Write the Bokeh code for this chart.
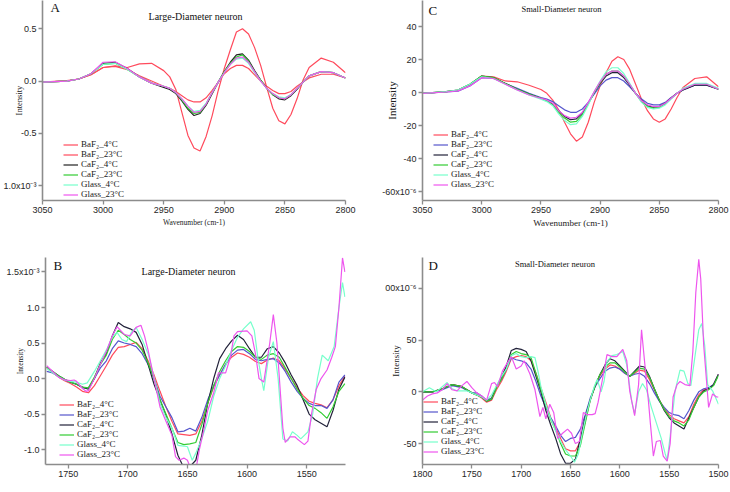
from bokeh.plotting import figure
from bokeh.models import Range1d, FixedTicker, Label
from bokeh.layouts import column, row
from bokeh.embed import file_html
from bokeh.resources import INLINE

# ---------------- data ----------------
series_labels = ["BaF\u2082_4\u00b0C", "BaF\u2082_23\u00b0C", "CaF\u2082_4\u00b0C",
                 "CaF\u2082_23\u00b0C", "Glass_4\u00b0C", "Glass_23\u00b0C"]
colors_A = ["#ff4a5c", "#ff4a5c", "#222222", "#33cc33", "#77ffcc", "#ee55ee"]
colors_BCD = ["#ff4a5c", "#5555cc", "#22223a", "#33cc33", "#77ffcc", "#ee55ee"]

# Panel A (CH stretch, large-diameter) - x shared
A_x = [3050, 3030, 3020, 3010, 3000, 2990, 2980, 2970, 2960, 2950, 2945, 2940, 2935, 2930,
       2925, 2920, 2915, 2910, 2905, 2900, 2895, 2890, 2885, 2880, 2875, 2870, 2865, 2860,
       2855, 2850, 2845, 2840, 2835, 2830, 2820, 2810, 2800]
A_baf4 = [-0.01, 0.005, 0.02, 0.06, 0.13, 0.145, 0.13, 0.165, 0.17, 0.1, 0.04, -0.08, -0.3, -0.52,
          -0.64, -0.67, -0.53, -0.33, -0.09, 0.12, 0.3, 0.47, 0.5, 0.45, 0.32, 0.15, -0.06, -0.26,
          -0.38, -0.41, -0.32, -0.17, 0.01, 0.13, 0.22, 0.18, 0.08]
A_baf23 = [-0.01, 0.0, 0.02, 0.06, 0.13, 0.14, 0.11, 0.05, 0.0, -0.05, -0.07, -0.1, -0.14, -0.18,
           -0.2, -0.2, -0.16, -0.09, -0.01, 0.07, 0.12, 0.15, 0.15, 0.12, 0.06, 0.0, -0.05, -0.09,
           -0.12, -0.12, -0.1, -0.05, -0.01, 0.03, 0.065, 0.065, 0.03]
A_caf4 = [-0.01, 0.0, 0.02, 0.07, 0.17, 0.18, 0.12, 0.04, -0.02, -0.06, -0.08, -0.12, -0.19, -0.27,
          -0.33, -0.31, -0.23, -0.12, -0.01, 0.09, 0.18, 0.25, 0.26, 0.2, 0.1, 0.01, -0.07, -0.13,
          -0.17, -0.18, -0.14, -0.08, -0.01, 0.05, 0.09, 0.08, 0.03]
A_caf23 = [-0.01, 0.0, 0.02, 0.07, 0.16, 0.17, 0.11, 0.04, -0.02, -0.05, -0.07, -0.11, -0.18, -0.26,
           -0.31, -0.3, -0.22, -0.11, -0.01, 0.09, 0.17, 0.23, 0.25, 0.19, 0.09, 0.01, -0.07, -0.13,
           -0.16, -0.17, -0.13, -0.07, -0.01, 0.05, 0.09, 0.08, 0.03]
A_gl4 = [-0.01, 0.0, 0.02, 0.07, 0.16, 0.17, 0.11, 0.04, -0.02, -0.05, -0.07, -0.11, -0.17, -0.24,
         -0.29, -0.28, -0.21, -0.11, -0.01, 0.08, 0.16, 0.21, 0.22, 0.17, 0.08, 0.0, -0.07, -0.12,
         -0.15, -0.16, -0.13, -0.07, -0.01, 0.05, 0.09, 0.08, 0.03]
A_gl23 = [-0.01, 0.0, 0.02, 0.07, 0.18, 0.185, 0.12, 0.04, -0.02, -0.05, -0.07, -0.11, -0.17, -0.24,
          -0.3, -0.29, -0.22, -0.11, -0.01, 0.08, 0.16, 0.22, 0.23, 0.18, 0.09, 0.0, -0.07, -0.12,
          -0.16, -0.17, -0.13, -0.07, -0.01, 0.05, 0.09, 0.08, 0.03]

# Panel C (CH stretch, small-diameter)
C_x = A_x
C_baf4 = [-0.6, 0.5, 1.2, 4.5, 10, 9.5, 7, 6.5, 4.4, 1.8, -0.5, -4.6, -10.5, -18, -25, -29.5, -27,
          -18, -6, 4, 12, 19, 21.7, 20, 14, 5, -4, -11, -16, -18, -16, -10, -3, 3, 8.5, 9.5, 3.5]
C_baf23 = [-0.5, 0.3, 0.8, 4, 9, 8.5, 5.5, 2.5, -0.5, -3, -4, -5.5, -8, -10.5, -12, -12, -10, -6,
           -1, 4, 7.5, 9, 9, 7, 3.5, -0.5, -4, -6.5, -7.5, -7.5, -6, -3, -0.5, 1.5, 4.5, 4.5, 2]
C_caf4 = [-0.5, 0.5, 1.5, 5, 10, 9, 5.5, 2, -1, -3.5, -5, -7, -11, -14.5, -16.5, -16, -12.5, -6.5,
          0, 5.5, 10, 12, 12, 9, 4.5, -0.5, -5, -8, -9, -8.5, -6.5, -3.5, -0.5, 1.5, 4.5, 4.5, 2]
C_caf23 = [-0.5, 0.5, 1.5, 5, 10, 9, 5.5, 2, -1, -3.5, -5, -7.5, -12, -15.5, -18, -17.5, -13.5, -7,
           0, 6, 11, 13, 13, 10, 5, -0.5, -5.5, -8.5, -9.5, -9, -7, -3.5, -0.5, 2, 5, 5, 2]
C_gl4 = [-0.5, 0.5, 1.5, 5, 9.5, 8.5, 5, 1.5, -1.5, -4, -5.5, -8, -13, -17, -19.5, -19, -14.5, -7.5,
         0.5, 7, 12.5, 15, 15, 11.5, 5.5, -0.5, -6, -9, -10, -9.5, -7.5, -4, -0.5, 2.5, 5.5, 5.5, 2.5]
C_gl23 = [-0.5, 0.3, 1, 4, 9, 8.5, 5, 1.5, -1.5, -3.5, -4.5, -6.5, -11, -14, -15.5, -15, -12, -6,
          0.5, 6.5, 11, 13, 13, 10, 5, -0.5, -5, -7.5, -8.5, -8.5, -6.5, -3.5, -0.5, 2, 5, 5, 2]

# Panel B (amide region, large-diameter)
B_x = [1768, 1763, 1758, 1753, 1748, 1743, 1738, 1733, 1728, 1723, 1718, 1713, 1708, 1703, 1698,
       1693, 1688, 1683, 1678, 1673, 1668, 1663, 1658, 1653, 1648, 1643, 1638, 1633, 1628, 1623,
       1618, 1613, 1608, 1603, 1598, 1593, 1588, 1583, 1578, 1573, 1568, 1563, 1558, 1553, 1548,
       1543, 1538, 1533, 1528, 1523, 1518]
B_baf4 = [0.15, 0.08, 0.02, -0.03, -0.07, -0.12, -0.18, -0.2, -0.1, 0.04, 0.18, 0.33, 0.44, 0.45,
          0.48, 0.51, 0.42, 0.25, 0.05, -0.18, -0.4, -0.6, -0.78, -0.79, -0.8, -0.78, -0.6, -0.35,
          -0.12, 0.05, 0.2, 0.3, 0.36, 0.34, 0.3, 0.24, 0.21, 0.26, 0.29, 0.25, 0.13, 0.0, -0.13,
          -0.24, -0.32, -0.35, -0.37, -0.41, -0.3, -0.1, 0.03]
B_baf23 = [0.1, 0.08, 0.03, -0.02, -0.05, -0.08, -0.13, -0.13, 0.0, 0.15, 0.25, 0.42, 0.53, 0.5,
           0.48, 0.45, 0.35, 0.2, 0.0, -0.25, -0.4, -0.55, -0.75, -0.74, -0.7, -0.74, -0.55, -0.3,
           -0.1, 0.05, 0.2, 0.33, 0.4, 0.41, 0.35, 0.27, 0.25, 0.27, 0.28, 0.22, 0.1, -0.05, -0.18,
           -0.28, -0.35, -0.38, -0.38, -0.42, -0.3, -0.05, 0.05]
B_caf4 = [0.16, 0.1, 0.04, -0.01, -0.05, -0.08, -0.12, -0.15, 0.0, 0.22, 0.35, 0.6, 0.79, 0.73,
          0.7, 0.65, 0.48, 0.2, -0.08, -0.3, -0.52, -0.78, -1.08, -1.26, -1.24, -1.15, -0.8, -0.35,
          0.0, 0.28, 0.42, 0.53, 0.61, 0.55, 0.42, 0.3, 0.3, 0.42, 0.45, 0.36, 0.22, 0.05, -0.1,
          -0.3, -0.5, -0.58, -0.63, -0.68, -0.45, -0.15, 0.02]
B_caf23 = [0.16, 0.1, 0.04, -0.01, -0.05, -0.08, -0.12, -0.13, 0.02, 0.2, 0.33, 0.55, 0.68, 0.62,
           0.55, 0.5, 0.4, 0.22, 0.0, -0.3, -0.5, -0.7, -0.9, -0.93, -0.92, -0.9, -0.65, -0.35,
           -0.1, 0.1, 0.25, 0.38, 0.45, 0.44, 0.38, 0.3, 0.27, 0.33, 0.35, 0.3, 0.15, 0.0, -0.15,
           -0.28, -0.38, -0.42, -0.48, -0.56, -0.4, -0.18, -0.07]
B_x_gl4 = [1768, 1763, 1758, 1753, 1748, 1743, 1738, 1734, 1728, 1723, 1718, 1713, 1709, 1705,
           1701, 1697, 1693, 1688, 1683, 1678, 1673, 1668, 1663, 1658, 1653, 1650, 1646, 1643,
           1638, 1633, 1628, 1623, 1618, 1613, 1608, 1603, 1597, 1594, 1591, 1588, 1586, 1582,
           1578, 1574, 1570, 1566, 1562, 1558, 1555, 1549, 1545, 1541, 1537, 1532, 1527, 1523,
           1520, 1518]
B_gl4 = [0.14, 0.08, 0.02, -0.02, -0.04, -0.05, -0.08, -0.06, 0.1, 0.25, 0.4, 0.58, 0.65, 0.55,
         0.52, 0.65, 0.72, 0.55, 0.35, 0.02, -0.35, -0.55, -0.7, -0.94, -0.95, -0.96, -1.15, -1.05,
         -0.85, -0.6, -0.25, 0.0, 0.18, 0.4, 0.58, 0.7, 0.8, 0.68, 0.3, 0.0, -0.17, 0.3,
         0.52, 0.0, -0.85, -0.88, -0.75, -0.8, -0.85, -0.75, -0.5, 0.0, 0.33, 0.25, 0.45, 1.0,
         1.35, 1.15]
B_x_gl23 = [1768, 1763, 1758, 1753, 1748, 1745, 1743, 1738, 1735, 1733, 1728, 1723, 1718, 1713,
            1709, 1703, 1698, 1693, 1689, 1686, 1683, 1678, 1673, 1668, 1663, 1660, 1657, 1653,
            1650, 1647, 1643, 1640, 1636, 1633, 1628, 1624, 1618, 1614, 1611, 1608, 1600, 1596,
            1593, 1590, 1586, 1581, 1578, 1575, 1570, 1568, 1564, 1560, 1558, 1552, 1549, 1546,
            1542, 1538, 1533, 1529, 1526, 1523, 1520, 1518]
B_gl23 = [0.18, 0.1, 0.02, -0.02, -0.03, -0.02, -0.04, -0.14, -0.18, -0.17, 0.0, 0.2, 0.38, 0.6,
          0.73, 0.62, 0.6, 0.72, 0.75, 0.6, 0.4, 0.0, -0.4, -0.6, -0.8, -1.1, -1.15, -1.12,
          -1.15, -1.28, -1.29, -1.0, -0.7, -0.45, -0.2, 0.08, 0.08, 0.3, 0.6, 0.66, 0.67, 0.6,
          0.35, 0.0, -0.05, 0.5, 0.9, 0.5, -0.7, -0.9, -0.82, -0.82, -0.85, -0.93, -0.88, -0.5,
          -0.15, 0.0, 0.12, 0.3, 0.45, 1.0, 1.7, 1.5]

# Panel D (amide region, small-diameter)
D_x = [1800, 1790, 1780, 1770, 1760, 1750, 1745, 1740, 1735, 1730, 1725, 1720, 1715, 1710, 1705,
       1700, 1695, 1690, 1685, 1680, 1675, 1670, 1665, 1660, 1655, 1650, 1645, 1640, 1635, 1630,
       1625, 1620, 1615, 1610, 1605, 1600, 1595, 1590, 1585, 1580, 1575, 1570, 1565, 1560, 1555,
       1550, 1545, 1540, 1535, 1530, 1525, 1520, 1515, 1510, 1505, 1500]
D_baf4 = [0, 0, 3, 7, 5, -1, -3, -6, -10, -8, 2, 10, 20, 32, 34, 35, 34, 30, 18, 4, -10, -25, -35,
          -45, -55, -57, -57, -48, -28, -8, 6, 16, 22, 26, 25, 22, 18, 15, 18, 21, 20, 12, 2, -8,
          -16, -22, -26, -28, -30, -24, -12, -3, 2, 3, 7, 17]
D_baf23 = [0, 0, 2, 6, 4, -1, -1, -4, -8, -6, 5, 12, 22, 33, 31, 30, 28, 22, 10, -4, -15, -25, -33,
           -42, -48, -45, -44, -36, -22, -6, 5, 13, 20, 23, 24, 22, 18, 15, 17, 18, 15, 8, -1, -9,
           -15, -20, -22, -23, -26, -18, -8, 0, 3, 4, 7, 17]
D_caf4 = [0, 0, 3, 7, 5, -1, -3, -5, -9, -7, 5, 14, 25, 40, 42, 41, 39, 30, 15, 0, -18, -32, -45,
          -60, -69, -69, -65, -45, -24, -8, 6, 17, 26, 32, 30, 25, 20, 15, 20, 25, 24, 15, 3, -8,
          -18, -25, -30, -33, -36, -25, -15, -5, 1, 3, 7, 17]
D_caf23 = [0, 0, 3, 7, 5, -1, -3, -5, -9, -7, 4, 12, 22, 36, 39, 37, 36, 33, 18, 2, -13, -27, -37,
           -50, -60, -62, -62, -52, -30, -8, 6, 17, 24, 28, 28, 24, 19, 15, 19, 23, 22, 14, 3, -8,
           -17, -24, -28, -30, -33, -27, -15, -5, 0, 2, 6, 16]
D_x_gl4 = [1800, 1793, 1786, 1780, 1775, 1770, 1765, 1760, 1755, 1750, 1745, 1740, 1735, 1730,
           1725, 1720, 1715, 1710, 1705, 1700, 1695, 1690, 1686, 1683, 1680, 1675, 1670, 1665,
           1660, 1655, 1650, 1646, 1642, 1638, 1634, 1630, 1626, 1623, 1619, 1616, 1613, 1608,
           1603, 1597, 1593, 1588, 1585, 1581, 1577, 1573, 1568, 1563, 1558, 1554, 1552, 1549,
           1544, 1539, 1535, 1531, 1528, 1523, 1520, 1517, 1514, 1511, 1506, 1500]
D_gl4 = [0, 4, 0, 5, 9, 3, 1, 1, 1, -1, -3, -5, -8, -3, 6, 15, 22, 35, 37, 34, 33, 34, 33, 20, 5,
         -12, -26, -38, -48, -56, -62, -68, -60, -40, -22, -8, 5, 12, 0, 10, 29, 35, 36, 39, 26,
         -9, -21, 0, 8, 2, -15, -30, -45, -60, -66, -43, 1, 21, 20, 8, 6, 40, 60, 66, 45, 7, 1, -12]
D_x_gl23 = [1800, 1795, 1790, 1785, 1780, 1775, 1770, 1765, 1760, 1755, 1750, 1745, 1740, 1735,
            1730, 1727, 1724, 1719, 1714, 1710, 1705, 1700, 1697, 1691, 1686, 1681, 1678, 1675,
            1671, 1667, 1663, 1658, 1653, 1649, 1645, 1641, 1637, 1633, 1628, 1625, 1622, 1618,
            1613, 1608, 1603, 1597, 1593, 1590, 1585, 1581, 1578, 1575, 1571, 1569, 1566, 1563,
            1559, 1556, 1552, 1549, 1546, 1542, 1539, 1534, 1529, 1526, 1523, 1520, 1518, 1515,
            1510, 1506, 1502, 1500]
D_gl23 = [-8, -4, -2, -1, 2, 8, 2, 1, 6, 10, 4, -1, -4, -8, 8, 9, 5, 20, 28, 34, 22, 25, 30, 17, 2,
          -24, -15, -26, -12, -20, -45, -40, -36, -40, -50, -48, -20, -22, -22, -21, -10, 10, 36,
          34, 34, 41, 30, 1, -23, 7, 60, 30, -9, -31, -62, -48, -47, -62, -67, -50, -5, 7, 10, 7,
          6, 39, 96, 128, 109, 45, -15, -2, -5, -5]

# ticks / tick labels
A_xticks = [3050, 3000, 2950, 2900, 2850, 2800]
A_yticks = [-1.0, -0.5, 0.0, 0.5]
A_ylabels = ["1.0x10\u207b\u00b3", "-0.5", "0.0", "0.5"]
C_yticks = [-60, -40, -20, 0, 20, 40]
C_ylabels = ["-60x10\u207b\u2076", "-40", "-20", "0", "20", "40"]
B_xticks = [1750, 1700, 1650, 1600, 1550]
B_yticks = [-1.0, -0.5, 0.0, 0.5, 1.0, 1.5]
B_ylabels = ["-1.0", "-0.5", "0.0", "0.5", "1.0", "1.5x10\u207b\u00b3"]
D_xticks = [1800, 1750, 1700, 1650, 1600, 1550, 1500]
D_yticks = [-50, 0, 50, 100]
D_ylabels = ["-50", "0", "50", "00x10\u207b\u2076"]

AXIS_GREY = "#8c8c8c"
SERIF = "Liberation Serif"
SANS = "Liberation Sans"


def make_panel(w, h, xr, yr, borders, xticks, yticks, ylabels,
               xlabel, xlabel_size, ylabel_size, ylabel_standoff):
    left, right, top, bottom = borders
    p = figure(width=w, height=h, x_range=Range1d(*xr), y_range=Range1d(*yr),
               output_backend="svg", toolbar_location=None, title=None,
               min_border_left=left, min_border_right=right,
               min_border_top=top, min_border_bottom=bottom)
    p.outline_line_color = None
    p.xgrid.visible = False
    p.ygrid.visible = False
    p.xaxis.ticker = FixedTicker(ticks=xticks)
    p.yaxis.ticker = FixedTicker(ticks=yticks)
    p.yaxis.major_label_overrides = {t: s for t, s in zip(yticks, ylabels)}
    p.xaxis.major_label_overrides = {t: str(t) for t in xticks}
    for ax in (p.xaxis[0], p.yaxis[0]):
        ax.axis_line_color = AXIS_GREY
        ax.axis_line_width = 1.6
        ax.major_tick_line_color = AXIS_GREY
        ax.major_tick_line_width = 1.3
        ax.major_tick_out = 4
        ax.major_tick_in = 0
        ax.minor_tick_out = 0
        ax.minor_tick_in = 0
        ax.major_label_text_font = SANS
        ax.major_label_text_font_size = "9px"
        ax.major_label_text_color = "#262626"
    p.xaxis.major_label_standoff = 2
    p.yaxis.major_label_standoff = 2
    if xlabel:
        p.xaxis.axis_label = xlabel
        p.xaxis.axis_label_text_font = SERIF
        p.xaxis.axis_label_text_font_style = "normal"
        p.xaxis.axis_label_text_font_size = xlabel_size
        p.xaxis.axis_label_text_color = "#222222"
        p.xaxis.axis_label_standoff = 2
    p.yaxis.axis_label = "Intensity"
    p.yaxis.axis_label_text_font = SERIF
    p.yaxis.axis_label_text_font_style = "normal"
    p.yaxis.axis_label_text_font_size = ylabel_size
    p.yaxis.axis_label_text_color = "#222222"
    p.yaxis.axis_label_standoff = ylabel_standoff
    return p


def add_lines(p, xs_list, ys_list, colors):
    for xs, ys, c, lab in zip(xs_list, ys_list, colors, series_labels):
        p.line(xs, ys, line_color=c, line_width=1.2, legend_label=lab)


def style_legend(p, loc):
    lg = p.legend[0]
    lg.location = loc
    lg.border_line_alpha = 0
    lg.background_fill_alpha = 0
    lg.label_text_font = SERIF
    lg.label_text_font_size = "9px"
    lg.label_text_color = "#222222"
    lg.glyph_width = 15
    lg.glyph_height = 9
    lg.label_height = 9
    lg.label_standoff = 3
    lg.spacing = 0
    lg.padding = 0
    lg.margin = 0


def add_text(p, x, y, text, size, align="left"):
    p.add_layout(Label(x=x, y=y, x_units="screen", y_units="screen", text=text,
                       text_font=SERIF, text_font_size=size, text_color="#111111",
                       text_align=align, text_baseline="top"))


# ---------------- Panel A ----------------  (frame 0..201)
pA = make_panel(365, 240, (3050, 2800), (-1.143, 0.771), (42, 20, 0, 39),
                A_xticks, A_yticks, A_ylabels, "Wavenumber (cm-1)", "7.5px", "8.5px", -24)
add_lines(pA, [A_x] * 6, [A_baf4, A_baf23, A_caf4, A_caf23, A_gl4, A_gl23], colors_A)
style_legend(pA, (21, 1))
add_text(pA, 8, 200.5, "A", "13px")
add_text(pA, 153, 190, "Large-Diameter neuron", "10px", align="center")

# ---------------- Panel C ----------------  (frame 0..200)
pC = make_panel(365, 240, (3050, 2800), (-65.45, 55.76), (57, 12, 0, 40),
                A_xticks, C_yticks, C_ylabels, "Wavenumber (cm-1)", "9px", "11px", -19)
add_lines(pC, [C_x] * 6, [C_baf4, C_baf23, C_caf4, C_caf23, C_gl4, C_gl23], colors_BCD)
style_legend(pC, (11, 11))
add_text(pC, 6, 198, "C", "13px")
add_text(pC, 139, 197, "Small-Diameter neuron", "8.5px", align="center")

# ---------------- Panel B ----------------  (frame 257..464)
pB = make_panel(365, 252, (1769, 1517.5), (-1.21, 1.704), (45, 20, 17, 28),
                B_xticks, B_yticks, B_ylabels, None, None, "7.5px", -22)
add_lines(pB, [B_x, B_x, B_x, B_x, B_x_gl4, B_x_gl23],
          [B_baf4, B_baf23, B_caf4, B_caf23, B_gl4, B_gl23], colors_BCD)
style_legend(pB, (14, 5))
add_text(pB, 8, 207, "B", "13px")
add_text(pB, 143, 198.5, "Large-Diameter neuron", "10px", align="center")

# ---------------- Panel D ----------------  (frame 256..464)
pD = make_panel(365, 252, (1800, 1500), (-70.2, 129.8), (57, 12, 16, 28),
                D_xticks, D_yticks, D_ylabels, None, None, "9px", -19)
add_lines(pD, [D_x, D_x, D_x, D_x, D_x_gl4, D_x_gl23],
          [D_baf4, D_baf23, D_caf4, D_caf23, D_gl4, D_gl23], colors_BCD)
style_legend(pD, (1, 8))
add_text(pD, 6, 207, "D", "13px")
add_text(pD, 132.5, 205.5, "Small-Diameter neuron", "8.5px", align="center")

layout = column(row(pA, pC), row(pB, pD))
open("out.html", "w").write(file_html(layout, INLINE))
